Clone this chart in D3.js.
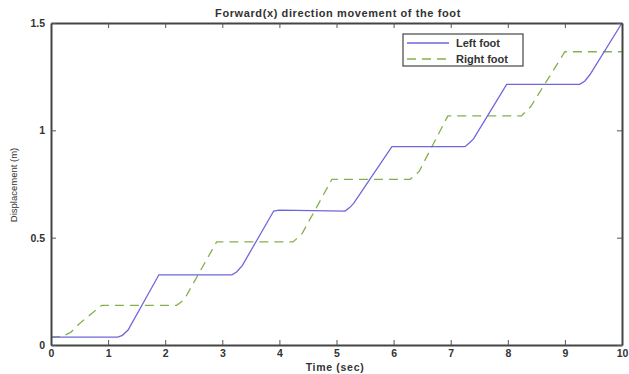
<!DOCTYPE html>
<html>
<head>
<meta charset="utf-8">
<script src="https://cdn.jsdelivr.net/npm/d3@7/dist/d3.min.js"></script>
<style>
body { margin:0; background:#fff; }
text { font-family: "Liberation Sans", Arial, sans-serif; fill:#333; }
</style>
</head>
<body>
<div id="chart"></div>
<script>
// ##### data #####
var titleText = "Forward(x) direction movement of the foot";
var xLabel = "Time (sec)";
var yLabel = "Displacement (m)";
var xTicks = [0,1,2,3,4,5,6,7,8,9,10];
var yTicks = [0,0.5,1,1.5];
var yTickLabels = ["0","0.5","1","1.5"];
var seriesNames = ["Left foot","Right foot"];

// [time, displacement]
var leftFoot = [
	[0,0.037],[1.17,0.037],[1.25,0.045],[1.35,0.07],[1.89,0.327],[3.17,0.327],[3.25,0.34],[3.35,0.37],
	[3.9,0.624],[4.0,0.628],[5.15,0.624],[5.23,0.64],[5.3,0.66],[5.97,0.924],[7.25,0.924],
	[7.32,0.94],[7.4,0.96],[7.98,1.214],[9.26,1.214],[9.35,1.23],[9.44,1.26],[10,1.5]
];
var rightFoot = [
	[0,0.037],[0.2,0.04],[0.35,0.06],[0.5,0.1],[0.89,0.185],[2.2,0.185],[2.28,0.2],[2.35,0.22],
	[2.9,0.48],[4.24,0.48],[4.32,0.5],[4.4,0.52],[4.92,0.772],[6.29,0.772],[6.37,0.79],[6.45,0.81],
	[6.95,1.067],[8.24,1.067],[8.32,1.09],[8.4,1.11],[9.0,1.366],[10,1.366]
];

// ##### layout #####
var W = 629, H = 374;
var margin = {top: 23, right: 7, bottom: 29, left: 51};
var width = W - margin.left - margin.right;
var height = H - margin.top - margin.bottom;

var svg = d3.select("#chart").append("svg")
	.attr("width", W)
	.attr("height", H);

var g = svg.append("g").attr("transform", "translate(" + margin.left + "," + margin.top + ")");

var x = d3.scaleLinear().domain([0,10]).range([0, width]);
var y = d3.scaleLinear().domain([0,1.5]).range([height, 0]);

var line = d3.line()
	.x(function(d) { return x(d[0]); })
	.y(function(d) { return y(d[1]); });

// series
g.append("path")
	.attr("d", line(rightFoot))
	.attr("fill", "none")
	.attr("stroke", "#84b04c")
	.attr("stroke-width", 1.3)
	.attr("stroke-dasharray", "9,6");

g.append("path")
	.attr("d", line(leftFoot))
	.attr("fill", "none")
	.attr("stroke", "#6f66dc")
	.attr("stroke-width", 1.3);

// axes, ticks inward like matlab
var xb = g.append("g")
	.attr("transform", "translate(0," + height + ")")
	.call(d3.axisBottom(x).tickValues(xTicks).tickSizeInner(-5).tickSizeOuter(0).tickPadding(5));
var xt = g.append("g")
	.call(d3.axisTop(x).tickValues(xTicks).tickSizeInner(-5).tickSizeOuter(0).tickFormat(""));
var yl = g.append("g")
	.call(d3.axisLeft(y).tickValues(yTicks).tickSizeInner(-5).tickSizeOuter(0).tickPadding(6)
		.tickFormat(function(d, i) { return yTickLabels[i]; }));
var yr = g.append("g")
	.attr("transform", "translate(" + width + ",0)")
	.call(d3.axisRight(y).tickValues(yTicks).tickSizeInner(-5).tickSizeOuter(0).tickFormat(""));

[xb, xt, yl, yr].forEach(function(a) {
	a.select(".domain").attr("stroke", "#444").attr("stroke-width", 2);
	a.selectAll(".tick line").attr("stroke", "#555");
	a.selectAll(".tick text")
		.style("font-size", "10.5px")
		.style("font-weight", "bold")
		.attr("fill", "#333");
});

// titles
svg.append("text")
	.attr("x", 338)
	.attr("y", 17)
	.attr("text-anchor", "middle")
	.style("font-size", "11px")
	.style("font-weight", "bold")
	.style("letter-spacing", "0.6px")
	.text(titleText);

svg.append("text")
	.attr("x", 335)
	.attr("y", 371)
	.attr("text-anchor", "middle")
	.style("font-size", "10.5px")
	.style("font-weight", "bold")
	.style("letter-spacing", "0.7px")
	.text(xLabel);

svg.append("text")
	.attr("transform", "translate(17," + 185 + ") rotate(-90)")
	.attr("text-anchor", "middle")
	.style("font-size", "9.5px")
	.text(yLabel);

// legend
var lg = svg.append("g").attr("transform", "translate(403,34)");
lg.append("rect")
	.attr("width", 120)
	.attr("height", 32)
	.attr("fill", "#fff")
	.attr("stroke", "#444")
	.attr("stroke-width", 1.2);

var legendStyles = [
	{color: "#6f66dc", dash: null},
	{color: "#84b04c", dash: "9,6"}
];
seriesNames.forEach(function(name, i) {
	var yy = 9 + i * 16;
	lg.append("line")
		.attr("x1", 4).attr("x2", 46)
		.attr("y1", yy).attr("y2", yy)
		.attr("stroke", legendStyles[i].color)
		.attr("stroke-width", 1.3)
		.attr("stroke-dasharray", legendStyles[i].dash);
	lg.append("text")
		.attr("x", 53)
		.attr("y", yy + 4)
		.style("font-size", "11px")
		.style("font-weight", "bold")
		.text(name);
});
</script>
</body>
</html>
